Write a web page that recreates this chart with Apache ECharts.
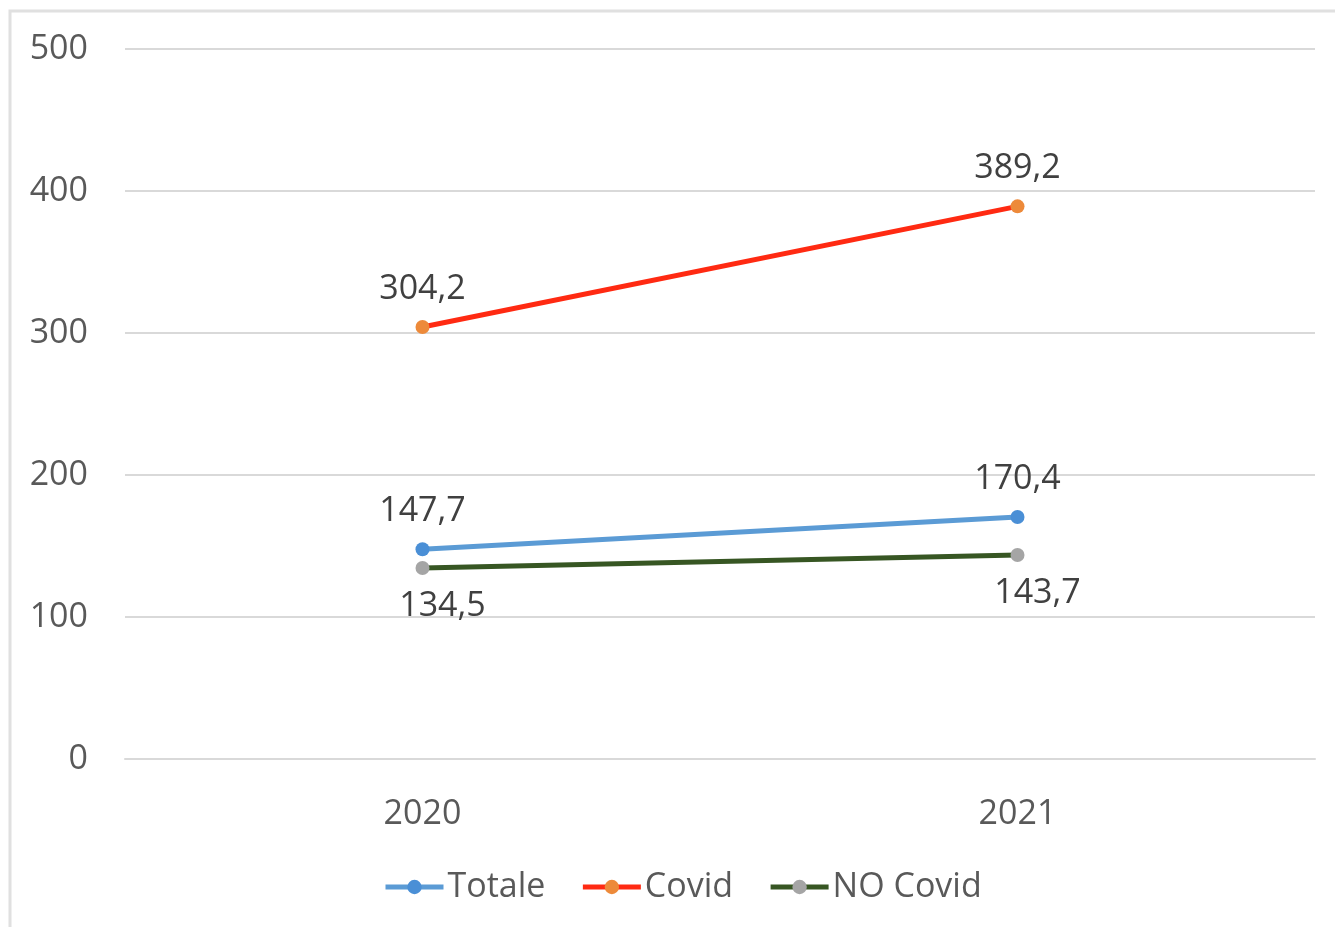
<!DOCTYPE html>
<html>
<head>
<meta charset="utf-8">
<script src="https://cdn.jsdelivr.net/npm/echarts@6/dist/echarts.min.js"></script>
<style>
  html, body { margin: 0; padding: 0; background: #ffffff; }
  #chart { width: 1335px; height: 927px; }
</style>
</head>
<body>
<div id="chart"></div>
<script>
// Years on the category axis
const years = ['2020', '2021'];

// Series values
const totale = [147.7, 170.4];
const covid = [304.2, 389.2];
const noCovid = [134.5, 143.7];

// Value axis ticks
const yMin = 0;
const yMax = 500;
const yStep = 100;

const FONT = '"Open Sans", "Noto Sans", sans-serif';
const TEXT = '#595959';
const FS = 34;

const fmt = v => String(v.toFixed(1)).replace('.', ',');

function lineSeries(name, data, lineColor, markerColor, labelPos, labelOffset) {
  return {
    name: name,
    type: 'line',
    data: data,
    symbol: 'circle',
    symbolSize: 14,
    lineStyle: { color: lineColor, width: 5 },
    itemStyle: { color: markerColor },
    label: {
      show: true,
      position: labelPos,
      distance: 14,
      offset: labelOffset,
      formatter: p => fmt(p.value),
      fontFamily: FONT,
      fontSize: FS,
      color: '#404040'
    },
    emphasis: { disabled: true },
    z: 3
  };
}

const chart = echarts.init(document.getElementById('chart'), null, { renderer: 'canvas' });
chart.setOption({
  backgroundColor: '#ffffff',
  animation: false,
  graphic: [{
    type: 'rect',
    shape: { x: 10, y: 11, width: 1400, height: 1000 },
    style: { fill: 'none', stroke: '#e0e0e0', lineWidth: 3 },
    silent: true
  }],
  grid: { left: 125, right: 20, top: 49, bottom: 168, containLabel: false },
  xAxis: {
    type: 'category',
    data: years,
    boundaryGap: true,
    axisLine: { show: true, lineStyle: { color: '#d9d9d9', width: 2 } },
    axisTick: { show: false },
    axisLabel: { fontFamily: FONT, fontSize: FS, color: TEXT, margin: 38 }
  },
  yAxis: {
    type: 'value',
    min: yMin,
    max: yMax,
    interval: yStep,
    axisLine: { show: false },
    axisTick: { show: false },
    splitLine: { lineStyle: { color: '#d9d9d9', width: 2 } },
    axisLabel: { fontFamily: FONT, fontSize: FS, color: TEXT, margin: 37 }
  },
  legend: {
    bottom: 18,
    left: 378,
    itemWidth: 58,
    itemHeight: 18,
    itemGap: 35,
    lineStyle: { width: 5 },
    textStyle: { fontFamily: FONT, fontSize: FS, color: TEXT, padding: [0, 0, 0, -1] },
    data: ['Totale', 'Covid', 'NO Covid']
  },
  series: [
    lineSeries('Totale', totale, '#5b9bd5', '#4a8fd6', 'top', [0, 0]),
    lineSeries('Covid', covid, '#ff2a12', '#ed8a3a', 'top', [0, 0]),
    lineSeries('NO Covid', noCovid, '#375623', '#a5a5a5', 'bottom', [20, 0])
  ]
});
</script>
</body>
</html>
